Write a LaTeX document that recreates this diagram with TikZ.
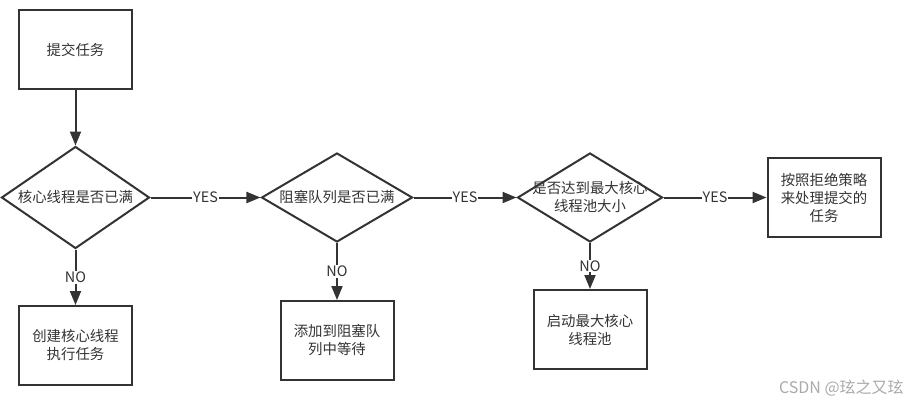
\documentclass[tikz,border=0pt]{standalone}
\usepackage{fontspec}
\setmainfont{Noto Sans CJK SC}
\usetikzlibrary{shapes.geometric,arrows.meta,positioning}
\definecolor{linegray}{HTML}{333333}
\definecolor{markgray}{HTML}{AAAAAA}

\tikzset{
  task/.style={draw=linegray,line width=2pt,rectangle,minimum width=113pt,minimum height=79pt,align=center,text=linegray,font=\fontsize{14.4}{18}\selectfont},
  decision/.style={draw=linegray,line width=2pt,diamond,inner sep=0pt,aspect=1.45,minimum width=148pt,minimum height=102pt,align=center,text=linegray,font=\fontsize{14.4}{18}\selectfont},
  answer/.style={fill=white,inner sep=1pt,text=linegray,font=\fontsize{14.4}{16}\selectfont}
}

\begin{document}
\begin{tikzpicture}[->,>={Triangle[length=14pt,width=11pt]},node distance=148pt,line width=2pt,draw=linegray]
    \useasboundingbox (0,0) rectangle (923pt,-407pt);

    \node[task] (submit) at (75.5pt,-49.5pt) {提交任务};
    \node[decision,below of = submit] (coreFull) {核心线程是否已满};
    \node[task,below of = coreFull] (createCore) {创建核心线程\\执行任务};

    \node[decision,right of = coreFull,xshift=113.5pt,aspect=1.7,minimum width=151pt,minimum height=89pt] (queueFull) {阻塞队列是否已满};
    \node[task,below of = queueFull,yshift=5pt] (addQueue) {添加到阻塞队\\列中等待};

    \node[decision,right of = queueFull,xshift=105pt,aspect=1.63,minimum width=145pt,minimum height=89pt,inner xsep=-15pt] (maxFull) {是否达到最大核心\\线程池大小};
    \node[task,below of = maxFull,yshift=16pt] (startMax) {启动最大核心\\线程池};

    \node[task,right of = maxFull,xshift=86pt] (reject) {按照拒绝策略\\来处理提交的\\任务};

    \node[text=markgray,font=\fontsize{16}{18}\selectfont,anchor=east] (mark) at (908pt,-388pt) {CSDN @玹之又玹};

    \path[draw=linegray]
    (submit)    edge (coreFull)
    (coreFull)  edge node[answer] {YES} (queueFull)
                edge node[answer] {NO} (createCore)
    (queueFull) edge node[answer] {YES} (maxFull)
                edge node[answer] {NO} (addQueue)
    (maxFull)   edge node[answer] {YES} (reject)
                edge node[answer] {NO} (startMax)
    ;
\end{tikzpicture}
\end{document}
